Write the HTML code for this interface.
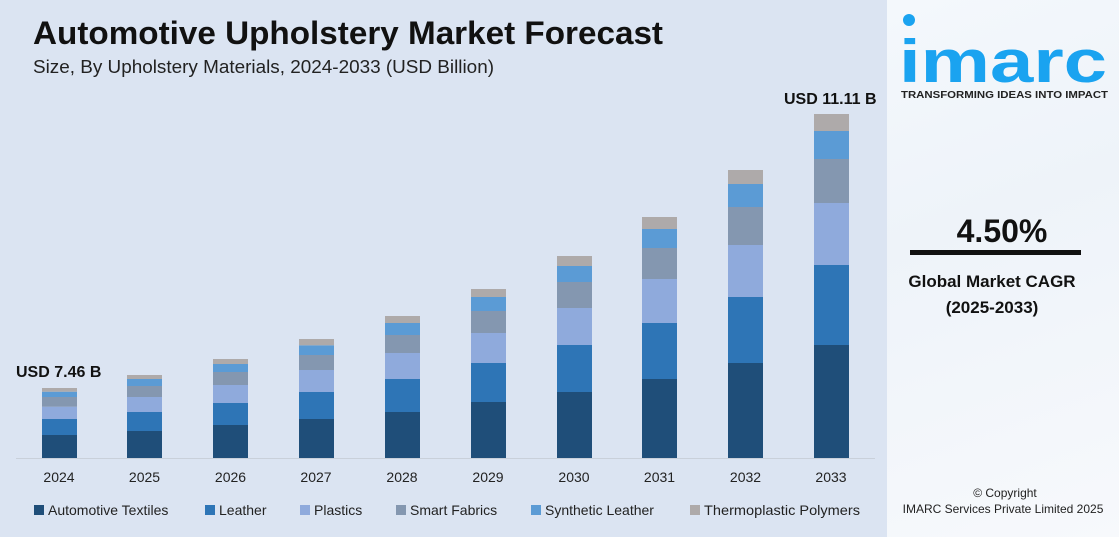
<!DOCTYPE html>
<html><head><style>
body{margin:0;width:1119px;height:537px;overflow:hidden;font-family:"Liberation Sans",sans-serif;}
.main{position:absolute;left:0;top:0;width:887px;height:537px;background:#dbe4f2;}
.side{position:absolute;left:887px;top:0;width:232px;height:537px;background:linear-gradient(160deg,#f4f8fc 0%,#eef3f9 40%,#f7f9fc 100%);}
</style></head><body>
<div class="main">
<svg width="887" height="537" style="position:absolute;left:0;top:0" font-family="Liberation Sans, sans-serif">
<text x="33" y="44" font-size="32" font-weight="bold" fill="#111" textLength="630" lengthAdjust="spacingAndGlyphs">Automotive Upholstery Market Forecast</text>
<text x="33" y="73" font-size="18" fill="#222" textLength="461" lengthAdjust="spacingAndGlyphs">Size, By Upholstery Materials, 2024-2033 (USD Billion)</text>
<line x1="16" y1="458.5" x2="875" y2="458.5" stroke="#c9d0da" stroke-width="1"/>
<g id="bars"></g>
<text x="16" y="377" font-size="16" font-weight="bold" fill="#111">USD 7.46 B</text>
<text x="784" y="104" font-size="16" font-weight="bold" fill="#111">USD 11.11 B</text>
<g font-size="14" fill="#222" text-anchor="middle">
<text x="59" y="482">2024</text><text x="144.5" y="482">2025</text><text x="230.5" y="482">2026</text><text x="316" y="482">2027</text><text x="402" y="482">2028</text><text x="488" y="482">2029</text><text x="574" y="482">2030</text><text x="659.5" y="482">2031</text><text x="745.5" y="482">2032</text><text x="831" y="482">2033</text>
</g>
<g font-size="14" fill="#222">
<rect x="34" y="505" width="10" height="10" fill="#1f4e79"/><text x="48" y="515">Automotive Textiles</text>
<rect x="205" y="505" width="10" height="10" fill="#2e75b6"/><text x="219" y="515">Leather</text>
<rect x="300" y="505" width="10" height="10" fill="#8faadc"/><text x="314" y="515">Plastics</text>
<rect x="396" y="505" width="10" height="10" fill="#8497b0"/><text x="410" y="515">Smart Fabrics</text>
<rect x="531" y="505" width="10" height="10" fill="#5b9bd5"/><text x="545" y="515">Synthetic Leather</text>
<rect x="690" y="505" width="10" height="10" fill="#aeaaaa"/><text x="704" y="515" textLength="156" lengthAdjust="spacingAndGlyphs">Thermoplastic Polymers</text>
</g>
</svg>
</div>
<div class="side">
<svg width="232" height="537" style="position:absolute;left:0;top:0" font-family="Liberation Sans, sans-serif">
<circle cx="22" cy="20" r="6" fill="#1aa3f0"/>
<text x="12" y="82" font-size="60" font-weight="bold" fill="#1aa3f0" textLength="208" lengthAdjust="spacingAndGlyphs">imarc</text>
<text x="14" y="98" font-size="10" font-weight="bold" fill="#222" textLength="207" lengthAdjust="spacingAndGlyphs">TRANSFORMING IDEAS INTO IMPACT</text>
<text x="115" y="242" font-size="32" font-weight="bold" fill="#111" text-anchor="middle">4.50%</text>
<rect x="23" y="250" width="171" height="5" fill="#111"/>
<text x="105" y="287" font-size="17" font-weight="bold" fill="#111" text-anchor="middle">Global Market CAGR</text>
<text x="105" y="313" font-size="17" font-weight="bold" fill="#111" text-anchor="middle">(2025-2033)</text>
<text x="118" y="497" font-size="12" fill="#222" text-anchor="middle">© Copyright</text>
<text x="116" y="513" font-size="12" fill="#222" text-anchor="middle">IMARC Services Private Limited 2025</text>
</svg>
</div>
<script>
const C=["#1f4e79","#2e75b6","#8faadc","#8497b0","#5b9bd5","#aeaaaa"];
const B=[[42,[458,435,419,406.7,397,391.7,388]],[127,[458,431,412,397,386,379,375]],[213,[458,425,403,385,372,364,359]],[299,[458,419,392,370,355,345.3,339]],[385,[458,412,379,353,335,323,316]],[471,[458,402,363,333,311,297,289]],[557,[458,392,345,308,282,266,256]],[642,[458,379,323,279,248,229,217]],[728,[458,363,297,245,207,184,170]],[814,[458,345,265,203,159,131,114]]];
let s="";
for(const [x,y] of B){for(let i=0;i<6;i++){s+=`<rect x="${x}" y="${y[i+1]}" width="35" height="${(y[i]-y[i+1]).toFixed(1)}" fill="${C[i]}"/>`;}}
document.getElementById("bars").innerHTML=s;
</script>
</body></html>
